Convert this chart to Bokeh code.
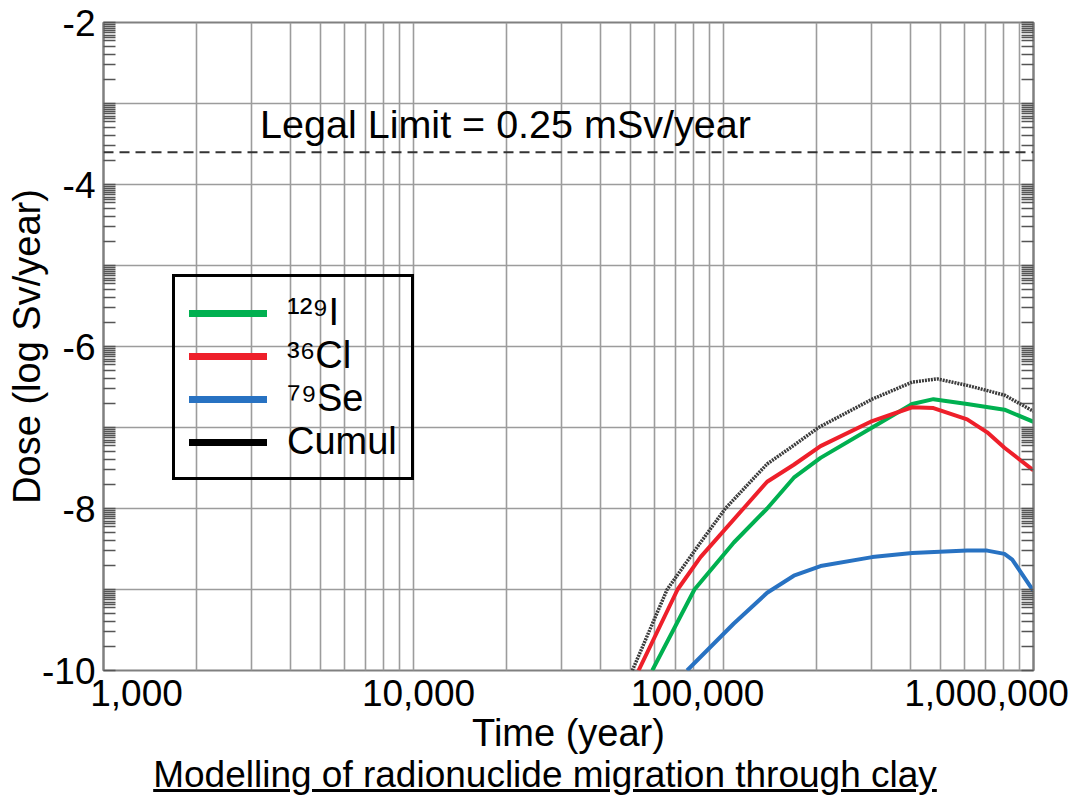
import math
from bokeh.plotting import figure
from bokeh.models import (Range1d, FixedTicker, LinearAxis, Span, Label,
                          Legend, LegendItem, Div, CustomJSTickFormatter, ColumnDataSource)
from bokeh.layouts import column
from bokeh.core.properties import value
from bokeh.embed import file_html
from bokeh.resources import INLINE

# ---------------- data ----------------
time_I = [58900, 80600, 108000, 138300, 168600, 205600, 301800, 406000, 475600, 611000, 806000, 1000000]
dose_I = [-10.0, -9.0, -8.42, -8.0, -7.62, -7.375, -7.0, -6.71, -6.65, -6.71, -6.78, -6.93]

time_Cl = [53200, 71100, 84300, 116000, 138300, 168600, 205600, 301800, 406000, 475600, 611000, 709000, 806000, 1000000]
dose_Cl = [-10.0, -9.0, -8.6, -8.0, -7.67, -7.46, -7.23, -6.92, -6.75, -6.76, -6.90, -7.06, -7.25, -7.53]

time_Se = [76300, 108000, 138300, 168600, 205600, 301800, 406000, 611000, 709000, 806000, 853900, 1000000]
dose_Se = [-10.0, -9.42, -9.04, -8.83, -8.71, -8.60, -8.55, -8.52, -8.52, -8.56, -8.63, -9.02]

time_cumul = [50800, 65800, 84300, 101400, 138300, 168600, 202500, 301800, 406000, 489000, 611000, 806000, 1000000]
dose_cumul = [-10.0, -9.0, -8.42, -8.0, -7.45, -7.22, -7.0, -6.65, -6.44, -6.40, -6.48, -6.60, -6.80]

legal_limit_sv = 0.25e-3  # 0.25 mSv/year
x_tick_values = [1000, 10000, 100000, 1000000]
y_tick_values = [-10, -8, -6, -4, -2]
legend_labels = ["\u00b9\u00b2\u2079I", "\u00b3\u2076Cl", "\u2077\u2079Se", "Cumul"]
x_title = "Time (year)"
y_title = "Dose (log Sv/year)"
chart_title = "Modelling of radionuclide migration through clay"

# ---------------- styles / layout ----------------
FONT = "Liberation Sans"
GREEN, RED, BLUE, CUMUL = "#00b050", "#ee1f2a", "#2872c2", "#3c3c3c"
GRID = "#9c9c9c"
FRAME = "#808080"
FIG_W = 1077
LEFT, TOP, FRAME_W, FRAME_H, BOTTOM = 103, 22, 930, 648, 24
RIGHT = FIG_W - LEFT - FRAME_W
LABELS_H = 85            # strip under the plot holding tick labels and x title
TITLE_H = 40
x_label_offsets = [33, 5, -26, -47]   # nudges of the x tick labels, px
X0, X1 = 1e3, 1e6

p = figure(x_axis_type="log", x_range=Range1d(X0, X1), y_range=Range1d(-10, -2),
           frame_width=FRAME_W, frame_height=FRAME_H,
           min_border_left=LEFT, min_border_top=TOP, min_border_right=RIGHT, min_border_bottom=BOTTOM,
           output_backend="svg", toolbar_location=None)
p.background_fill_color = "white"
p.border_fill_color = "white"
p.outline_line_color = FRAME
p.outline_line_width = 2

# x axis (log) - ticks & grid (labels are drawn in the strip below)
x_minor = [k * 10 ** n for n in range(3, 6) for k in range(2, 10)]
x_ticker = FixedTicker(ticks=x_tick_values, minor_ticks=x_minor)
p.xaxis.ticker = x_ticker
p.xaxis.visible = False
p.xgrid.ticker = x_ticker
p.xgrid.grid_line_color = GRID
p.xgrid.grid_line_width = 1.6
p.xgrid.minor_grid_line_color = GRID
p.xgrid.minor_grid_line_width = 1.6

# y axis
f_list = [0.95, 0.9, 0.85, 0.8, 0.75, 0.7, 0.65, 0.6, 0.5, 0.4, 0.3, 0.2]
y_minor = [d + math.log10(f) for d in range(-2, -10, -1) for f in f_list] + [-3, -5, -7, -9]
y_ticker = FixedTicker(ticks=y_tick_values, minor_ticks=y_minor)
p.yaxis.ticker = y_ticker
p.yaxis.major_label_overrides = {v: str(v) for v in y_tick_values}
p.yaxis.major_label_text_font = FONT
p.yaxis.major_label_text_font_size = "37px"
p.yaxis.major_label_text_color = "black"
p.yaxis.major_label_standoff = 8
p.yaxis.major_tick_in = 12
p.yaxis.major_tick_out = 0
p.yaxis.minor_tick_in = 12
p.yaxis.minor_tick_out = 0
p.yaxis.major_tick_line_color = "#555555"
p.yaxis.minor_tick_line_color = "#555555"
p.yaxis.major_tick_line_width = 1.4
p.yaxis.minor_tick_line_width = 1.4
p.yaxis.axis_line_color = FRAME
p.yaxis.axis_line_width = 2
p.yaxis.axis_label = y_title
p.yaxis.axis_label_text_font = FONT
p.yaxis.axis_label_text_font_size = "38px"
p.yaxis.axis_label_text_font_style = "normal"
p.yaxis.axis_label_text_color = "black"
p.yaxis.axis_label_standoff = -9
p.ygrid.ticker = FixedTicker(ticks=list(range(-10, -1)))
p.ygrid.grid_line_color = GRID
p.ygrid.grid_line_width = 1.6

right_axis = LinearAxis(ticker=y_ticker,
                        formatter=CustomJSTickFormatter(code="return ''"),
                        major_tick_in=12, major_tick_out=0, minor_tick_in=12, minor_tick_out=0,
                        major_tick_line_color="#555555", minor_tick_line_color="#555555",
                        major_tick_line_width=1.4, minor_tick_line_width=1.4,
                        axis_line_color=FRAME, axis_line_width=2,
                        major_label_text_font_size="1px", major_label_standoff=0)
p.add_layout(right_axis, "right")

# legal limit
limit_log = math.log10(legal_limit_sv)
p.add_layout(Span(location=limit_log, dimension="width", line_color="#333333",
                  line_width=2.2, line_dash="10 6"))
p.add_layout(Label(x=3200, y=limit_log, y_offset=28, text="Legal Limit = 0.25 mSv/year",
                   text_font=FONT, text_font_size="39.5px", text_color="black",
                   text_align="left", text_baseline="alphabetic"))

# curves
p.line(time_cumul, dose_cumul, line_color=CUMUL, line_width=3.5, line_dash="2 1")
p.line(time_I, dose_I, line_color=GREEN, line_width=4)
p.line(time_Cl, dose_Cl, line_color=RED, line_width=4)
p.line(time_Se, dose_Se, line_color=BLUE, line_width=4)

# legend with solid proxies (one NaN point each, so nothing is drawn in the plot)
legend_colors = [GREEN, RED, BLUE, "black"]
proxies = [p.line([X0], [float("nan")], line_color=c, line_width=7, line_cap="round")
           for c in legend_colors]
legend = Legend(items=[LegendItem(label=l, renderers=[r]) for l, r in zip(legend_labels, proxies)],
                location=(69, 190), padding=14, spacing=0, margin=0,
                label_standoff=20, glyph_width=78, glyph_height=40,
                label_text_font=FONT, label_text_font_size="38px", label_text_color="black",
                border_line_color="black", border_line_width=3, border_line_alpha=1,
                background_fill_alpha=0)
p.add_layout(legend)

# ---- strip under the plot: x tick labels and x title, on the same log scale ----
decade_px = FRAME_W / (math.log10(X1) - math.log10(X0))
s_start = 10 ** (math.log10(X0) - LEFT / decade_px)
s_end = 10 ** (math.log10(X1) + RIGHT / decade_px)
strip = figure(x_axis_type="log", x_range=Range1d(s_start, s_end), y_range=Range1d(0, LABELS_H),
               width=FIG_W, height=LABELS_H, min_border=0,
               x_axis_location=None, y_axis_location=None,
               output_backend="svg", toolbar_location=None)
strip.frame_align = False
strip.margin = (-BOTTOM, 0, 0, 0)      # overlap the empty band under the main frame
strip.outline_line_color = None
strip.grid.visible = False
strip.background_fill_color = None
strip.border_fill_color = None

tick_src = ColumnDataSource(dict(x=x_tick_values,
                                 y=[LABELS_H - 22] * len(x_tick_values),
                                 text=[f"{v:,}" for v in x_tick_values],
                                 xoff=x_label_offsets))
strip.text(x="x", y="y", text="text", x_offset="xoff", source=tick_src,
           text_font=value(FONT), text_font_size=value("37px"), text_color="black",
           text_align="center", text_baseline="alphabetic")
strip.text(x=[math.sqrt(X0 * X1)], y=[LABELS_H - 62], text=[x_title],
           text_font=value(FONT), text_font_size=value("38px"), text_color="black",
           text_align="center", text_baseline="alphabetic")

title = Div(text=f"<u>{chart_title}</u>",
            width=FIG_W, height=TITLE_H, margin=0,
            styles={"font-family": "'Liberation Sans', Arial, sans-serif", "font-size": "37px",
                    "line-height": f"{TITLE_H}px", "text-align": "center", "color": "black",
                    "white-space": "nowrap", "padding-left": "13px", "box-sizing": "border-box"})

layout = column(p, strip, title, spacing=0)
open("out.html", "w").write(file_html(layout, INLINE))
